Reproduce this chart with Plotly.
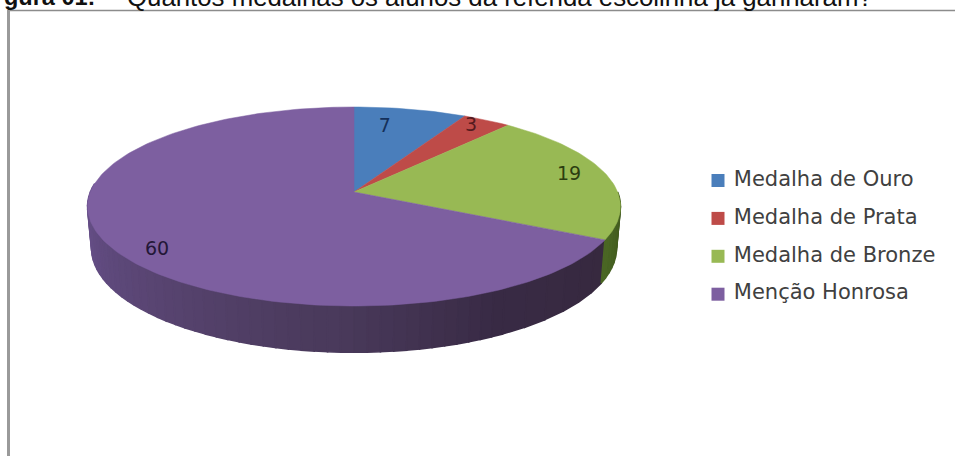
import math
import plotly.graph_objects as go

# Survey answers
categories = ["Medalha de Ouro", "Medalha de Prata", "Medalha de Bronze", "Menção Honrosa"]
values = [7, 3, 19, 60]

# Slice styling
top_colors = ["#4a7ebb", "#be4b48", "#98b954", "#7d5fa0"]
label_colors = ["#15305a", "#551a1e", "#2c3d10", "#231737"]

# Label placement inside each slice: share of the slice's sweep, share of the radius
label_sweep = [0.35, 0.40, 0.49, 0.47]
label_radius = [0.75, 0.90, 0.855, 0.88]

# Tilted-disc projection, in page pixels
APEX_X, APEX_Y = 354.0, 192.0
SCALE_X, SCALE_Y = 263.6, 97.4
TILT = 0.1457
DEPTH = 41.0
BASE_SHRINK = 0.985

# Colour key layout, in page pixels
KEY_X, KEY_Y, KEY_STEP = 718.0, 180.5, 37.9


def project(theta_deg, r=1.0, lowered=False):
    t = math.radians(theta_deg)
    u, v = r * math.sin(t), -r * math.cos(t)
    w = 1 - TILT * v
    x = SCALE_X * u / w
    y = SCALE_Y * v / w
    if lowered:
        return APEX_X + x * BASE_SHRINK, APEX_Y + y * BASE_SHRINK + DEPTH / w
    return APEX_X + x, APEX_Y + y


def mix(c1, c2, f):
    a = [int(c1[i:i + 2], 16) for i in (1, 3, 5)]
    b = [int(c2[i:i + 2], 16) for i in (1, 3, 5)]
    return "#%02x%02x%02x" % tuple(round(p + (q - p) * f) for p, q in zip(a, b))


total = sum(values)
edges = [0.0]
for val in values:
    edges.append(edges[-1] + 360.0 * val / total)

fig = go.Figure()

# Side wall of the disc: narrow bands so the shading runs dark to light around the rim
def add_wall(start, end, col_a, col_b, steps):
    for i in range(steps):
        a0 = start + (end - start) * i / steps
        a1 = start + (end - start) * (i + 1) / steps
        pts = [project(a0 + (a1 - a0) * k / 3) for k in range(4)]
        pts += [project(a1 - (a1 - a0) * k / 3, lowered=True) for k in range(4)]
        colour = mix(col_a, col_b, i / max(steps - 1, 1))
        fig.add_trace(go.Scatter(
            x=[p[0] for p in pts] + [pts[0][0]], y=[p[1] for p in pts] + [pts[0][1]],
            mode="lines", fill="toself", fillcolor=colour,
            line=dict(color=colour, width=1.6), hoverinfo="skip", showlegend=False))


add_wall(275, 185, "#6c5390", "#4a3a5c", 36)
add_wall(185, 150, "#4a3a5c", "#382a44", 14)
add_wall(150, edges[3], "#382a44", "#37293f", 6)
add_wall(90, edges[3], "#3a5119", "#4a6624", 10)

# Top face of each slice
for i, name in enumerate(categories):
    n = max(int(values[i] * 3), 8)
    pts = [(APEX_X, APEX_Y)]
    pts += [project(edges[i] + (edges[i + 1] - edges[i]) * k / n) for k in range(n + 1)]
    pts.append((APEX_X, APEX_Y))
    fig.add_trace(go.Scatter(
        x=[p[0] for p in pts], y=[p[1] for p in pts], mode="lines", fill="toself",
        fillcolor=top_colors[i], line=dict(color=top_colors[i], width=0.5),
        name=name, hoverinfo="name", showlegend=False))

# Value labels
label_x, label_y = [], []
for i in range(len(values)):
    theta = edges[i] + (edges[i + 1] - edges[i]) * label_sweep[i]
    px, py = project(theta, label_radius[i])
    label_x.append(px)
    label_y.append(py)
fig.add_trace(go.Scatter(
    x=label_x, y=label_y, mode="text", text=[str(v) for v in values],
    textposition="middle center",
    textfont=dict(family="DejaVu Sans", size=19, color=label_colors),
    hoverinfo="skip", showlegend=False))

# Colour key beside the disc
for i, name in enumerate(categories):
    fig.add_trace(go.Scatter(
        x=[KEY_X], y=[KEY_Y + i * KEY_STEP], mode="markers+text",
        marker=dict(symbol="square", size=13, color=top_colors[i]),
        text=[" " + name], textposition="middle right",
        textfont=dict(family="DejaVu Sans", size=21, color="#404040"),
        name=name, hoverinfo="name", showlegend=False))

fig.update_layout(
    width=955, height=456, margin=dict(l=0, r=0, t=0, b=0),
    paper_bgcolor="white", plot_bgcolor="white", showlegend=False,
    xaxis=dict(range=[0, 955], visible=False, fixedrange=True),
    yaxis=dict(range=[456, 0], visible=False, fixedrange=True),
    shapes=[
        dict(type="line", xref="x", yref="y", x0=8, x1=955, y0=10.5, y1=10.5,
             line=dict(color="#8c8c8c", width=1.5)),
        dict(type="line", xref="x", yref="y", x0=8.5, x1=8.5, y0=10, y1=456,
             line=dict(color="#9a9a9a", width=3)),
    ],
    annotations=[
        dict(text="<b>gura 01:</b>", x=2, y=12.5, xref="x", yref="y", xanchor="left",
             yanchor="bottom", showarrow=False,
             font=dict(family="Liberation Sans", size=23.5, color="#111111")),
        dict(text="Quantos medalhas os alunos da referida escolinha já ganharam?",
             x=125, y=13, xref="x", yref="y", xanchor="left", yanchor="bottom",
             showarrow=False, font=dict(family="Liberation Sans", size=25.8, color="#111111")),
    ],
)

fig.write_html("out.html", config={"displayModeBar": False})
